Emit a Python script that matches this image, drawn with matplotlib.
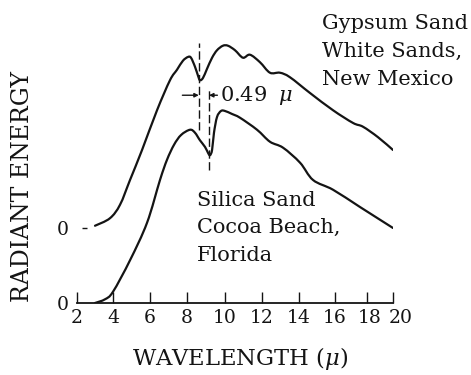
import numpy as np
import matplotlib
matplotlib.use("Agg")
import matplotlib.pyplot as plt
import matplotlib.transforms as mtransforms
from matplotlib.scale import FuncScale
from matplotlib.path import Path
from matplotlib.patches import PathPatch

plt.rcParams["font.family"] = ["DejaVu Serif"]
plt.rcParams["mathtext.fontset"] = "dejavuserif"

# Wavelength axis of the original plot is not quite uniform: the
# 16-20 micron end is compressed.  Tick wavelengths and their spacing.
tick_um = [2, 4, 6, 8, 10, 12, 14, 16, 18, 20]
tick_pos = [0, 36, 73, 110, 148, 185, 222, 258, 290, 316]

# Gypsum sand, White Sands, New Mexico (drawn on its own raised zero)
gypsum_um = [3.0, 3.83, 4.38, 4.92, 5.57, 6.38, 7.08, 7.46, 7.78, 8.05, 8.21,
             8.42, 8.58, 8.68, 8.84, 9.05, 9.32, 9.58, 9.89, 10.16, 10.54,
             10.97, 11.35, 11.89, 12.43, 12.97, 13.51, 14.61, 15.89, 17.13,
             17.75, 18.85, 20.0]
gypsum_e = [0.03, 0.13, 0.31, 0.64, 1.04, 1.57, 1.97, 2.11, 2.23, 2.28, 2.27,
            2.15, 2.03, 1.97, 2.00, 2.12, 2.27, 2.37, 2.43, 2.43, 2.37,
            2.27, 2.31, 2.21, 2.07, 2.07, 2.01, 1.80, 1.57, 1.40,
            1.35, 1.21, 1.04]
gypsum_zero = 1.0

# Silica sand, Cocoa Beach, Florida
silica_um = [3.0, 3.56, 4.0, 4.92, 5.84, 6.54, 6.92, 7.30, 7.68, 8.16, 8.42,
             8.68, 8.95, 9.11, 9.21, 9.32, 9.42, 9.58, 9.79, 10.0, 10.38,
             10.81, 11.73, 12.43, 13.14, 14.06, 14.78, 15.89, 17.56, 20.0]
silica_e = [0.0, 0.05, 0.15, 0.57, 1.07, 1.64, 1.91, 2.11, 2.24, 2.31, 2.27,
            2.17, 2.08, 2.00, 1.97, 2.04, 2.27, 2.48, 2.56, 2.56, 2.52,
            2.47, 2.31, 2.15, 2.07, 1.87, 1.64, 1.51, 1.28, 1.00]

# Reststrahlen minima and their separation
gypsum_min_um = 8.62
silica_min_um = 9.16
shift_label = "0.49 $\\;\\mu$"

gypsum_label = ["Gypsum Sand", "White Sands,", "New Mexico"]
silica_label = ["Silica Sand", "Cocoa Beach,", "Florida"]

ink = "#141414"
fs = 15

fig = plt.figure(figsize=(4.71, 3.75), dpi=100)
fig.patch.set_facecolor("white")
ax = fig.add_axes([77 / 471, 72 / 375, 316 / 471, 283 / 375])


def fwd(x):
    return np.interp(x, tick_um, tick_pos)


def inv(p):
    return np.interp(p, tick_pos, tick_um)


ax.set_xscale(FuncScale(ax, (fwd, inv)))
ax.set_xlim(2, 20)
ax.set_ylim(0, 3.773)


def smooth_curve(xs, ys):
    """Catmull-Rom curve through the points, as cubic Bezier segments."""
    p = np.column_stack([fwd(np.asarray(xs, float)), np.asarray(ys, float)])
    verts = [p[0]]
    codes = [Path.MOVETO]
    n = len(p)
    for i in range(n - 1):
        p0 = p[i - 1] if i > 0 else p[i]
        p3 = p[i + 2] if i + 2 < n else p[i + 1]
        c1 = p[i] + (p[i + 1] - p0) / 6.0
        c2 = p[i + 1] - (p3 - p[i]) / 6.0
        verts += [c1, c2, p[i + 1]]
        codes += [Path.CURVE4] * 3
    verts = np.array(verts)
    verts[:, 0] = inv(verts[:, 0])
    return Path(verts, codes)


for xs, ys in ((gypsum_um, np.array(gypsum_e) + gypsum_zero),
               (silica_um, silica_e)):
    ax.add_patch(PathPatch(smooth_curve(xs, ys), fill=False, edgecolor=ink,
                           lw=1.6, joinstyle="round", capstyle="round"))

# dashed markers through both minima
ax.plot([gypsum_min_um] * 2, [2.31, 3.47], color=ink, lw=1.0,
        dashes=(6, 2.5))
ax.plot([silica_min_um] * 2, [1.77, 2.87], color=ink, lw=1.0,
        dashes=(6, 2.5))
arrow_y = 2.77
ax.annotate("", xy=(gypsum_min_um, arrow_y), xytext=(7.75, arrow_y),
            arrowprops=dict(arrowstyle="-|>", color=ink, lw=1.0,
                            mutation_scale=6, shrinkA=0, shrinkB=0))
ax.annotate("", xy=(silica_min_um, arrow_y), xytext=(9.6, arrow_y),
            arrowprops=dict(arrowstyle="-|>", color=ink, lw=1.0,
                            mutation_scale=6, shrinkA=0, shrinkB=0))
ax.text(9.75, arrow_y, shift_label, fontsize=fs, color=ink,
        va="center", ha="left")

for i, line in enumerate(gypsum_label):
    ax.text(15.28, 3.72 - 0.367 * i, line, fontsize=fs, color=ink,
            va="center", ha="left")
for i, line in enumerate(silica_label):
    ax.text(8.53, 1.373 - 0.367 * i, line, fontsize=fs, color=ink,
            va="center", ha="left")

# axes styling: only a baseline with inward ticks
for side in ("top", "right", "left"):
    ax.spines[side].set_visible(False)
ax.spines["bottom"].set_linewidth(1.3)
ax.spines["bottom"].set_color(ink)
ax.set_xticks(tick_um)
ax.set_xticklabels([str(t) for t in tick_um])
ax.tick_params(axis="x", direction="in", length=8, width=1.0, color=ink,
               labelsize=13.5, pad=4, labelcolor=ink)
# the last two labels sit a little to the right of their ticks
tick_labels = ax.get_xticklabels()
for lab, dx in ((tick_labels[-2], 3), (tick_labels[-1], 8)):
    lab.set_transform(lab.get_transform() +
                      mtransforms.ScaledTranslation(dx / 100, 0,
                                                    fig.dpi_scale_trans))
ax.set_yticks([0, gypsum_zero])
ax.set_yticklabels(["0", "0"])
ax.tick_params(axis="y", length=0, pad=6, labelsize=13.5, labelcolor=ink)
ax.hlines(gypsum_zero, 0.016, 0.032, transform=ax.get_yaxis_transform(),
          color=ink, lw=1.0)
ax.patch.set_alpha(0)

fig.text(240 / 471, 1 - 358 / 375, "WAVELENGTH ($\\mu$)", fontsize=16.3,
         color=ink, ha="center", va="center")
fig.text(23 / 471, 1 - 186 / 375, "RADIANT ENERGY", fontsize=17,
         color=ink, ha="center", va="center", rotation=90)

fig.savefig("out.png", dpi=100)
